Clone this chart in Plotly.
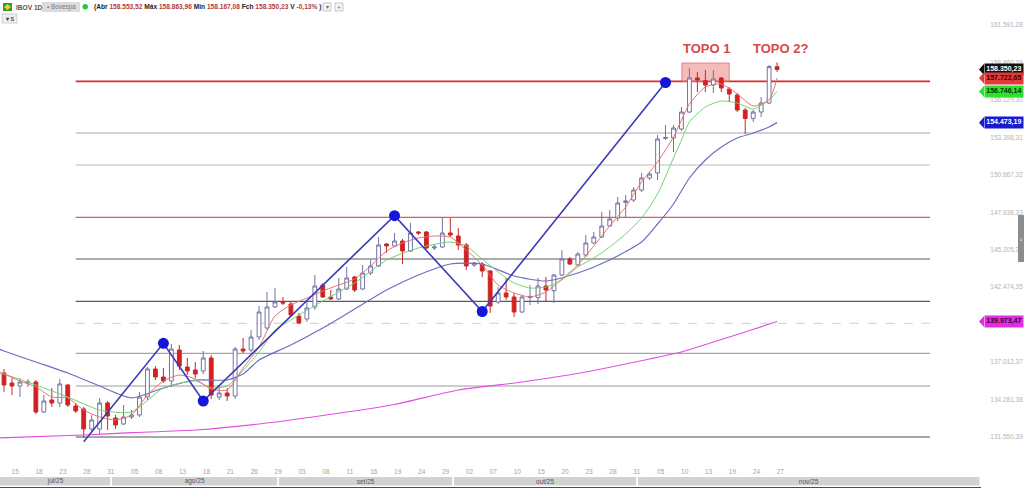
import plotly.graph_objects as go

# ---------------- data ----------------
# trading-day index 0 = 14 Jul 2025 ... 97 = 27 Nov 2025
opens = [136217,135488,135269,135488,135561,133373,134248,134029,135342,133811,
         133592,132133,132133,134029,132935,132498,133008,133154,134467,136509,
         135925,135634,137894,136654,136436,136363,137311,134467,134758,134540,
         137967,137894,138842,139498,141030,141394,141248,140373,140155,141030,
         142634,141759,141613,142342,143217,142342,143509,144019,145624,145478,
         145842,145113,146499,146499,145332,145405,146426,146207,145551,144092,
         144165,143655,141394,142050,141759,140665,141720,141720,142561,142218,
         143363,144530,144092,144821,145696,146134,146936,147519,148660,148832,
         149561,150436,150801,153330,153353,154009,155249,157728,157530,157218,
         157728,156926,156489,155395,154775,155249,155905,158553.52]
highs = [136509,135852,135852,135779,135706,134613,135123,135779,135415,134029,
         133738,133154,134394,134175,133154,133883,133519,134831,136654,136727,
         136581,138332,138259,137311,137019,137821,137529,135342,135123,138113,
         138769,139352,141103,142123,142415,141759,141394,140592,141540,143363,
         142780,142269,143144,143946,143290,144092,144457,146134,145696,146426,
         145988,147155,146572,146572,145624,147592,147519,146790,145696,144311,
         144311,143728,142488,143144,142050,141905,142634,143144,143217,143436,
         145186,144676,145040,146280,146499,147957,148103,149051,149197,149780,
         150801,150874,153572,154301,154301,155614,158457,158166,158312,158312,
         157801,157072,156634,155541,155395,156343,158676,158863.96]
lows = [134831,134613,134467,135196,133227,133300,133738,133738,133738,133300,
        131477,131842,131696,132060,132133,132425,132863,133008,134248,135706,
        135488,135196,136436,136071,135852,136144,134321,134248,134175,134321,
        137675,137748,138623,139352,140957,141175,140300,139790,139936,140811,
        141686,141540,141540,142269,142123,142269,143363,143946,144967,145405,
        144165,145040,146280,145259,145186,145332,146134,145186,143728,143946,
        143217,140592,141248,141540,140300,140592,141175,141248,141394,141321,
        143290,144092,144019,144676,145624,146061,146890,147301,147592,148686,
        149415,150290,150290,153207,152332,153864,155176,156707,156707,156634,
        156707,155978,155249,153645,154520,154884,155832,158167.08]
closes = [135342,135269,135561,135561,133373,134175,134029,135415,133883,133446,
          132133,132790,134029,133081,132425,133008,133154,134467,136509,135925,
          135634,137967,136727,136363,136144,137311,134613,134758,134540,137967,
          137821,138842,140665,141030,141394,141321,140446,139863,140957,142561,
          141759,141613,142342,143144,142269,143509,144019,145551,145478,145842,
          145113,146426,146426,145332,145405,146426,146280,145551,144019,144238,
          143655,141103,142050,141759,140665,141759,141800,142561,142269,143363,
          144530,144165,144894,145696,146134,146936,147447,148613,148759,149561,
          150436,150728,153280,153390,154082,155249,157728,157582,157218,157655,
          156999,156562,155395,154775,155249,155905,158556,158350.23]
bar_idx = list(range(len(opens)))

# moving averages (index, price)
red_ma_idx = [-1,0,2,4,6,8,10,12,14,16,18,20,22,24,26,28,30,32,34,36,38,40,42,44,46,48,
              50,52,54,56,58,60,62,64,66,68,70,72,74,76,78,80,82,84,86,88,90,92,94,96,97]
red_ma = [136290,136144,135634,135196,134467,134394,133519,133008,132790,133154,134613,
          135634,136071,135779,135050,134977,136581,138113,140373,141175,141686,142196,
          142634,143071,144019,145113,145696,146061,146207,146134,145186,144092,142634,
          142050,141759,142123,143071,144092,145478,146936,148322,150145,151603,153426,
          155832,157072,157291,156562,155687,156124,157722.65]
green_ma_idx = [-1,0,4,8,12,16,20,24,26,28,32,34,36,40,44,48,52,56,58,60,62,64,66,68,70,
                72,74,76,78,80,82,84,85,86,88,90,92,94,96,97]
green_ma = [136363,136144,135342,134467,133519,133373,135123,135634,135123,135269,137748,
            139352,140082,141467,142780,144457,145332,145769,145478,144530,143582,142780,
            142415,142488,142998,143946,144603,145405,146353,147519,149270,151895,153207,
            154520,155614,156051,155905,155468,156124,156746.14]
blue_ma_idx = [-1,0,4,8,12,16,20,24,28,30,32,36,40,44,48,52,56,60,64,68,72,76,80,82,84,
               86,88,90,92,94,96,97]
blue_ma = [138040,137821,137019,136217,135269,134400,135123,135706,135706,136144,137165,
           138259,139498,140884,142269,143363,144165,144165,143290,142926,143509,144457,
           145769,147082,148540,150436,151749,152697,153353,153718,154155,154473.19]
mag_ma_idx = [-1,10,16,24,32,40,49,57,65,73,81,85,89,93,97]
mag_ma = [131477,131696,131864,132060,132498,133118,133920,134977,135561,136290,137238,
          137748,138477,139207,139973.47]

# zigzag drawn on the chart
zz_idx = [10, 20, 25, 49, 60, 83]
zz_price = [131207, 138382, 134175, 147687, 140701, 157400]

# horizontal levels
level_price = [157480, 153718, 151384, 147570, 144529, 141445, 139841, 137653, 135269, 131550]
level_color = ['#dd2a2a', '#a6a6a6', '#bdbdbd', '#e05a5a', '#5a5a5a', '#5a5a5a', '#cfcfcf',
               '#8f8f8f', '#9a9a9a', '#8a8a8a']
level_width = [1.8, 1, 1, 1.2, 1.2, 1.2, 1, 1, 1, 1.3]
level_dash = ['solid'] * 6 + ['dash'] + ['solid'] * 3
level_from, level_to = 9.0, 116.2

# top box
box_idx = [85.05, 91.0]
box_price = [157480, 158822]

# price tags on the scale
tag_price = [158350.23, 157722.65, 156746.14, 154473.19, 139973.47]
tag_bg = ['#111111', '#e23a3a', '#2fe02f', '#1a1ad0', '#e02ee0']
tag_fg = ['#ffffff', '#3a0000', '#003300', '#ffffff', '#3a003a']

# axis ticks (the 139.743 label is hidden under the magenta tag in the reference)
y_tick_vals = [131550.39, 134281.38, 137012.37, 142474.35, 145205.34,
               147936.33, 150667.32, 153398.31, 156129.30, 158860.29, 161591.28]
x_tick_idx = [1,4,7,10,13,16,19,22,25,28,31,34,37,40,43,46,49,52,55,58,61,64,67,70,73,
              76,79,82,85,88,91,94,97]
x_tick_lbl = ["15","18","23","28","31","05","08","13","18","21","26","29","03","08","11",
              "16","19","24","29","02","07","10","15","20","23","28","31","05","10","13",
              "19","24","27"]
month_lbl = ["jul/25", "ago/25", "set/25", "out/25", "nov/25"]
month_first = [0, 14, 35, 57, 80]


def br(v):
    s = f"{v:,.2f}"
    return s.replace(",", "X").replace(".", ",").replace("X", ".")


# ---------------- layout geometry ----------------
PAPER_W = 981      # px of paper width (margin r = 43)
MAIN_W = 940       # px of price plot width
BAR_PX = 7.97      # px per trading day
X0 = -0.502
Y_RANGE = [129727, 162103]
TOP = 18
PLOT_H = 470


def px_x(p):
    return p / PAPER_W


def px_y(p):
    return (488 - p) / PLOT_H


fig = go.Figure()

# moving averages
for xi, yv, col, w in [(mag_ma_idx, mag_ma, '#e24ee2', 1.2),
                       (blue_ma_idx, blue_ma, '#6d6dc4', 1.2),
                       (green_ma_idx, green_ma, '#6fd36f', 1.0),
                       (red_ma_idx, red_ma, '#e57373', 1.0)]:
    fig.add_trace(go.Scatter(x=xi, y=yv, mode='lines',
                             line=dict(color=col, width=w, shape='spline', smoothing=0.6),
                             hoverinfo='skip', showlegend=False))

# candles
fig.add_trace(go.Candlestick(
    x=bar_idx, open=opens, high=highs, low=lows, close=closes,
    increasing=dict(fillcolor='#ffffff', line=dict(color='#7272a6', width=1)),
    decreasing=dict(fillcolor='#dd1c1c', line=dict(color='#c42a2a', width=1)),
    whiskerwidth=0, showlegend=False, hoverinfo='skip'))

# zigzag
fig.add_trace(go.Scatter(x=zz_idx, y=zz_price, mode='lines',
                         line=dict(color='#3b3bb5', width=1.6),
                         hoverinfo='skip', showlegend=False))
fig.add_trace(go.Scatter(x=zz_idx[1:], y=zz_price[1:], mode='markers',
                         marker=dict(color='#1616d8', size=11),
                         hoverinfo='skip', showlegend=False))

# month bar
m_start = [f - 0.5 for f in month_first]
m_end = m_start[1:] + [X0 + PAPER_W / BAR_PX]
fig.add_trace(go.Bar(
    x=[(a + b) / 2 for a, b in zip(m_start, m_end)],
    width=[b - a for a, b in zip(m_start, m_end)],
    y=[1] * len(month_lbl), base=0,
    text=month_lbl, textposition='inside', insidetextanchor='middle',
    constraintext='none',
    textfont=dict(size=6.5, color='#555555', family='Liberation Sans, Arial'),
    marker=dict(color='#d2d2d2', line=dict(color='#ffffff', width=1.5)),
    xaxis='x2', yaxis='y2', hoverinfo='skip', showlegend=False))

shapes = []
for p, c, w, d in zip(level_price, level_color, level_width, level_dash):
    shapes.append(dict(type='line', xref='x', yref='y', x0=level_from, x1=level_to,
                       y0=p, y1=p, line=dict(color=c, width=w, dash=d), layer='below'))
shapes.append(dict(type='rect', xref='x', yref='y', x0=box_idx[0], x1=box_idx[1],
                   y0=box_price[0], y1=box_price[1], fillcolor='rgba(236,130,130,0.55)',
                   line=dict(color='rgba(225,100,100,0.7)', width=1), layer='below'))

annotations = []
# price tags
ppx = (Y_RANGE[1] - Y_RANGE[0]) / 444.0
for p, bg, fg in zip(tag_price, tag_bg, tag_fg):
    annotations.append(dict(xref='paper', yref='y', x=px_x(983.5), y=p, xanchor='left',
                            yanchor='middle', text='<b>' + br(p) + '</b>', showarrow=False,
                            bgcolor=bg, borderpad=1.3,
                            font=dict(size=7, color=fg, family='Liberation Sans Narrow, Liberation Sans, Arial')))
    shapes.append(dict(type='path', xref='paper', yref='y',
                       path=f"M {px_x(979)},{p} L {px_x(984)},{p + 5.6 * ppx} L {px_x(984)},{p - 5.6 * ppx} Z",
                       fillcolor=bg, line=dict(width=0)))

# TOPO labels
annotations.append(dict(xref='x', yref='y', x=88.1, y=159843, text='<b>TOPO 1</b>',
                        showarrow=False, xanchor='center', yanchor='middle',
                        font=dict(size=13, color='#d84848', family='Liberation Sans, Arial')))
annotations.append(dict(xref='x', yref='y', x=97.4, y=159843, text='<b>TOPO 2?</b>',
                        showarrow=False, xanchor='center', yanchor='middle',
                        font=dict(size=13, color='#d84848', family='Liberation Sans, Arial')))


def hy(p):
    return 1 + (TOP - p) / PLOT_H


# header
shapes.append(dict(type='rect', xref='paper', yref='paper', x0=px_x(3), x1=px_x(12),
                   y0=hy(11), y1=hy(3), fillcolor='#2b9a3e', line=dict(width=0)))
shapes.append(dict(type='path', xref='paper', yref='paper',
                   path=f"M {px_x(7.5)},{hy(4)} L {px_x(11)},{hy(7)} L {px_x(7.5)},{hy(10)} L {px_x(4)},{hy(7)} Z",
                   fillcolor='#f2d21b', line=dict(width=0)))
shapes.append(dict(type='rect', xref='paper', yref='paper', x0=px_x(42), x1=px_x(80),
                   y0=hy(12), y1=hy(2), fillcolor='#dcdcdc', line=dict(width=0)))
shapes.append(dict(type='circle', xref='paper', yref='paper', x0=px_x(82.5), x1=px_x(88),
                   y0=hy(9.5), y1=hy(4), fillcolor='#27c944', line=dict(width=0)))
for bx in (323, 335):
    shapes.append(dict(type='rect', xref='paper', yref='paper', x0=px_x(bx), x1=px_x(bx + 8),
                       y0=hy(11), y1=hy(3), fillcolor='#f4f4f4',
                       line=dict(color='#bbbbbb', width=0.8)))
shapes.append(dict(type='rect', xref='paper', yref='paper', x0=px_x(2), x1=px_x(17),
                   y0=hy(23), y1=hy(14), fillcolor='#efefef', line=dict(color='#c4c4c4', width=0.8)))
# right scroll tab
shapes.append(dict(type='rect', xref='paper', yref='paper', x0=px_x(1018), x1=px_x(1025),
                   y0=px_y(262), y1=px_y(215), fillcolor='#8c8c8c', line=dict(width=0)))

hfont = 'Liberation Sans, Arial'


def hdr(x, y, text, size, color, anchor='left'):
    annotations.append(dict(xref='paper', yref='paper', x=px_x(x), y=hy(y), xanchor=anchor,
                            yanchor='middle', text=text, showarrow=False,
                            font=dict(size=size, color=color, family=hfont)))


hdr(14, 7, '<b>IBOV 1D</b>', 6.6, '#555555')
hdr(61, 7, '▪ Bovespa', 6.4, '#777777', 'center')
v = '#b23a3a'
last = len(closes) - 1
chg = (closes[last] / closes[last - 1] - 1) * 100
htxt = ("<b>(Abr <span style='color:%s'>%s</span> Máx <span style='color:%s'>%s</span> "
        "Min <span style='color:%s'>%s</span> Fch <span style='color:%s'>%s</span> "
        "V <span style='color:%s'>%s%%</span> )</b>") % (
    v, br(opens[last]), v, br(highs[last]), v, br(lows[last]), v, br(closes[last]),
    v, br(chg))
hdr(92, 7, htxt, 6.6, '#222222')
hdr(327, 7, '▾', 5.5, '#666666', 'center')
hdr(339, 7, '+', 6.5, '#777777', 'center')
hdr(9.5, 18.5, '<b>▾ S</b>', 5.5, '#444444', 'center')
annotations.append(dict(xref='paper', yref='paper', x=px_x(1021.5), y=px_y(238.5), text='‹',
                        xanchor='center', yanchor='middle',
                        showarrow=False, font=dict(size=8, color='#ffffff')))

fig.update_layout(
    width=1024, height=488,
    margin=dict(l=0, r=1024 - PAPER_W, t=TOP, b=0),
    paper_bgcolor='#ffffff', plot_bgcolor='#ffffff',
    showlegend=False, boxgap=0.32, bargap=0,
    xaxis=dict(domain=[0, MAIN_W / PAPER_W], range=[X0, X0 + MAIN_W / BAR_PX], anchor='y',
               showgrid=False, zeroline=False, showline=False,
               tickmode='array', tickvals=[i + 0.4 for i in x_tick_idx], ticktext=x_tick_lbl,
               ticks='outside', ticklen=3, tickcolor='rgba(0,0,0,0)',
               tickfont=dict(size=6.5, color='#a3a3a3', family='Liberation Sans, Arial'),
               rangeslider=dict(visible=False), fixedrange=True),
    yaxis=dict(domain=[(488 - 462) / PLOT_H, 1], range=Y_RANGE, anchor='x', side='right',
               showgrid=False, zeroline=False, showline=False,
               tickmode='array', tickvals=y_tick_vals, ticktext=[br(t) for t in y_tick_vals],
               ticks='outside', ticklen=48, tickcolor='rgba(0,0,0,0)',
               tickfont=dict(size=6.5, color='#b3b3b3', family='Liberation Sans, Arial'),
               fixedrange=True),
    xaxis2=dict(domain=[0, 1], range=[X0, X0 + PAPER_W / BAR_PX], anchor='y2',
                showgrid=False, zeroline=False, showticklabels=False,
                showline=True, linecolor='#4d4d4d', linewidth=2, fixedrange=True),
    yaxis2=dict(domain=[px_y(487), px_y(477)], range=[0, 1], visible=False, fixedrange=True),
    shapes=shapes, annotations=annotations,
)

fig.write_html("out.html")
